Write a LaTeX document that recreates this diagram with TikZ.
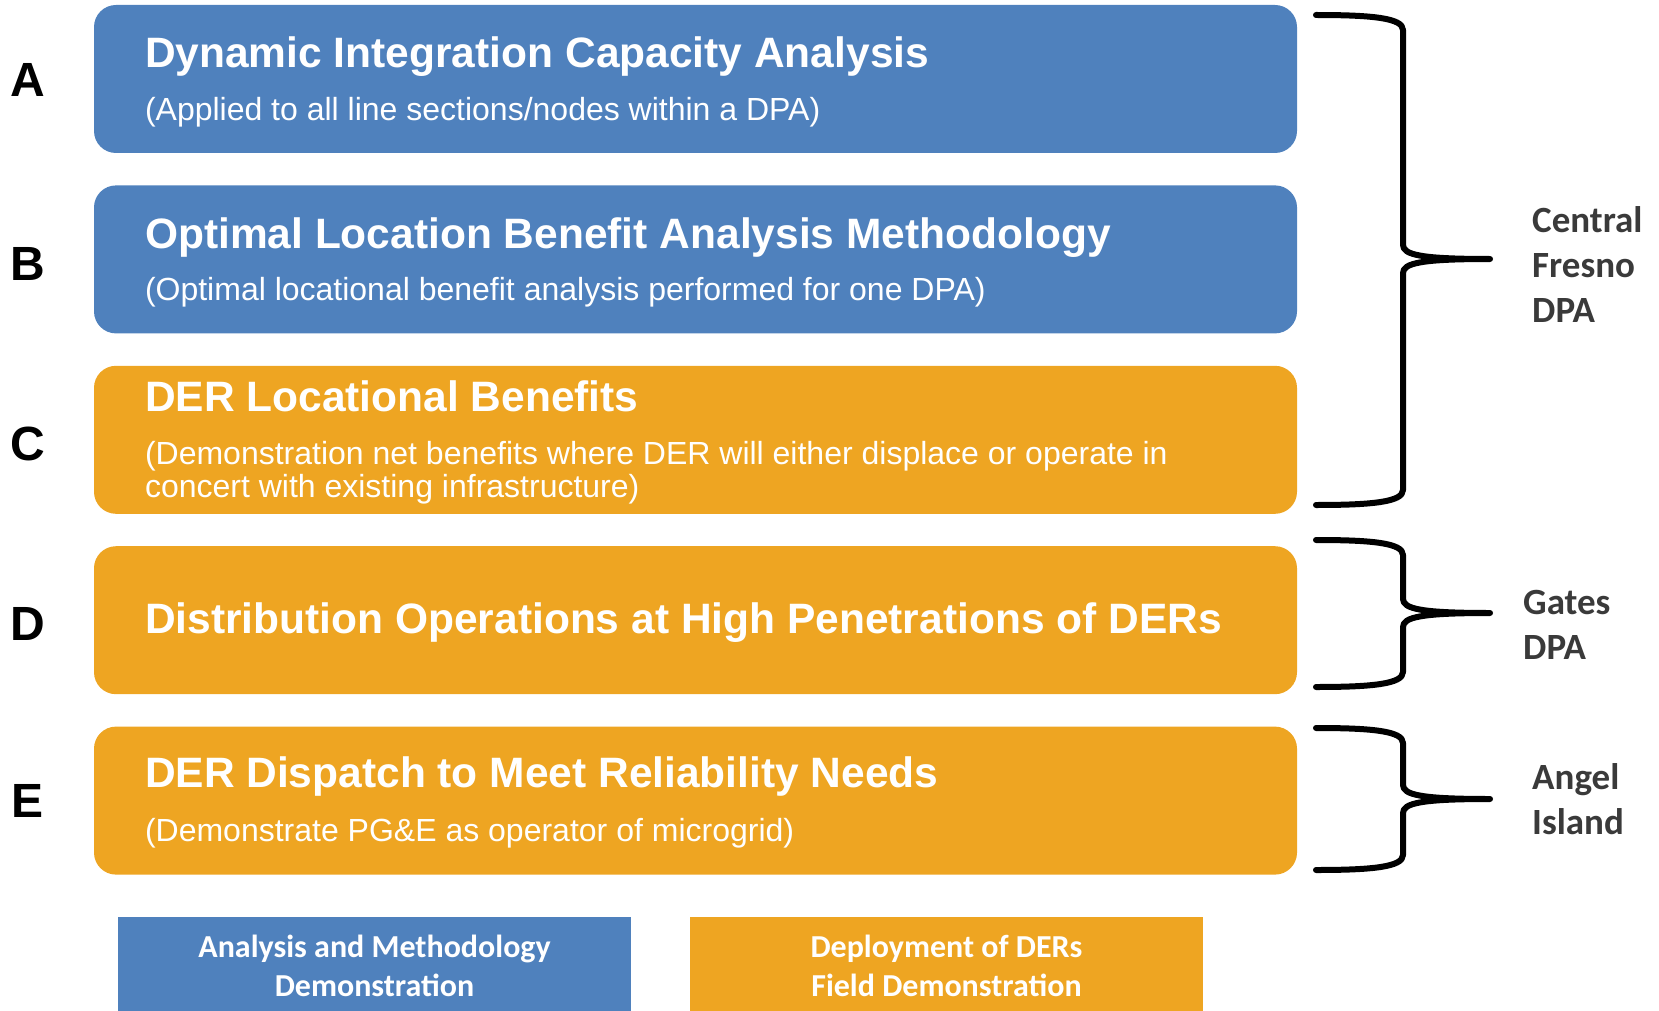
\documentclass[tikz,border=0pt]{standalone}
\usepackage{fontspec}
\setmainfont{Liberation Sans}
\newfontfamily\calibri{Carlito}
\usetikzlibrary{calc,positioning}
\definecolor{dpablue}{RGB}{79,129,189}
\definecolor{dpaorange}{RGB}{238,165,34}
\definecolor{lblgray}{RGB}{58,58,58}
\tikzset{stagebox/.style={rounded corners=22pt, minimum width=1203pt, minimum height=148pt, inner sep=0pt},
  ttl/.style={anchor=base west, text=white, inner sep=0pt, font=\fontsize{42.5}{44}\selectfont\bfseries},
  subttl/.style={anchor=base west, text=white, inner sep=0pt, font=\fontsize{32}{32}\selectfont},
  letter/.style={inner sep=0pt, font=\fontsize{48}{50}\selectfont\bfseries},
  brace/.style={line width=6pt, line cap=round, line join=round},
  dpa/.style={anchor=west, align=left, text=lblgray, inner sep=0pt, font=\calibri\fontsize{37}{45}\selectfont\bfseries},
  legend/.style={minimum width=513pt, minimum height=98pt, inner sep=0pt, align=center, text=white,
    font=\calibri\fontsize{32}{39}\selectfont\bfseries}}

\begin{document}
\begin{tikzpicture}[x=1pt, y=-1pt, node distance=32pt]
  \useasboundingbox (0,0) rectangle (1659,1011);
  % the five stages, one under the other
  \node[stagebox, fill=dpablue] (dica) at (695.5,79) {};
  \node[stagebox, fill=dpablue, below=of dica] (olb) {};
  \node[stagebox, fill=dpaorange, below=of olb] (loc) {};
  \node[stagebox, fill=dpaorange, below=of loc] (dist) {};
  \node[stagebox, fill=dpaorange, below=of dist] (disp) {};
  \node[ttl] (dicat) at ($(dica.north west)+(51,63)$) {Dynamic Integration Capacity Analysis};
  \node[subttl] (dicas) at ($(dica.north west)+(51,116)$) {(Applied to all line sections/nodes within a DPA)};
  \node[ttl] (olbt) at ($(olb.north west)+(51,63)$) {Optimal Location Benefit Analysis Methodology};
  \node[subttl] (olbs) at ($(olb.north west)+(51,115)$) {(Optimal locational benefit analysis performed for one DPA)};
  \node[ttl] (loct) at ($(loc.north west)+(51,46)$) {DER Locational Benefits};
  \node[subttl] (locs) at ($(loc.north west)+(51,99)$) {(Demonstration net benefits where DER will either displace or operate in};
  \node[subttl] (locss) at ($(locs.base west)+(0,33)$) {concert with existing infrastructure)};
  \node[ttl] (distt) at ($(dist.north west)+(51,87)$) {Distribution Operations at High Penetrations of DERs};
  \node[ttl] (dispt) at ($(disp.north west)+(51,61)$) {DER Dispatch to Meet Reliability Needs};
  \node[subttl] (disps) at ($(disp.north west)+(51,115)$) {(Demonstrate PG\&E as operator of microgrid)};
  % stage letters left of the boxes
  \foreach \l/\b/\dy in {A/dica/1,B/olb/5,C/loc/4,D/dist/4,E/disp/0}
    \node[letter] (let\l) at ($(\b.west)+(-66,\dy)$) {\l};
  % braces grouping the stages by site
  \foreach \t/\m/\b in {15/259/505, 540/613/687, 728/799/870}
    \draw[brace] (1316,\t) .. controls (1372,\t) and (1403,{\t+3}) .. (1403,{\t+15})
      -- (1403,{\m-14}) .. controls (1403,{\m-4}) and (1422,\m) .. (1490,\m)
      .. controls (1422,\m) and (1403,{\m+4}) .. (1403,{\m+14})
      -- (1403,{\b-15}) .. controls (1403,{\b-3}) and (1372,\b) .. (1316,\b);
  \node[dpa] (fresno) at (1532,265) {Central\\Fresno\\DPA};
  \node[dpa] (gates) at (1523,625) {Gates\\DPA};
  \node[dpa] (angel) at (1532,799) {Angel\\Island};
  % legend, cut by the lower edge
  \node[legend, fill=dpablue] (legam) at (374.5,966) {Analysis and Methodology\\Demonstration};
  \node[legend, fill=dpaorange] (legfd) at (946.5,966) {Deployment of DERs\\Field Demonstration};
\end{tikzpicture}
\end{document}
